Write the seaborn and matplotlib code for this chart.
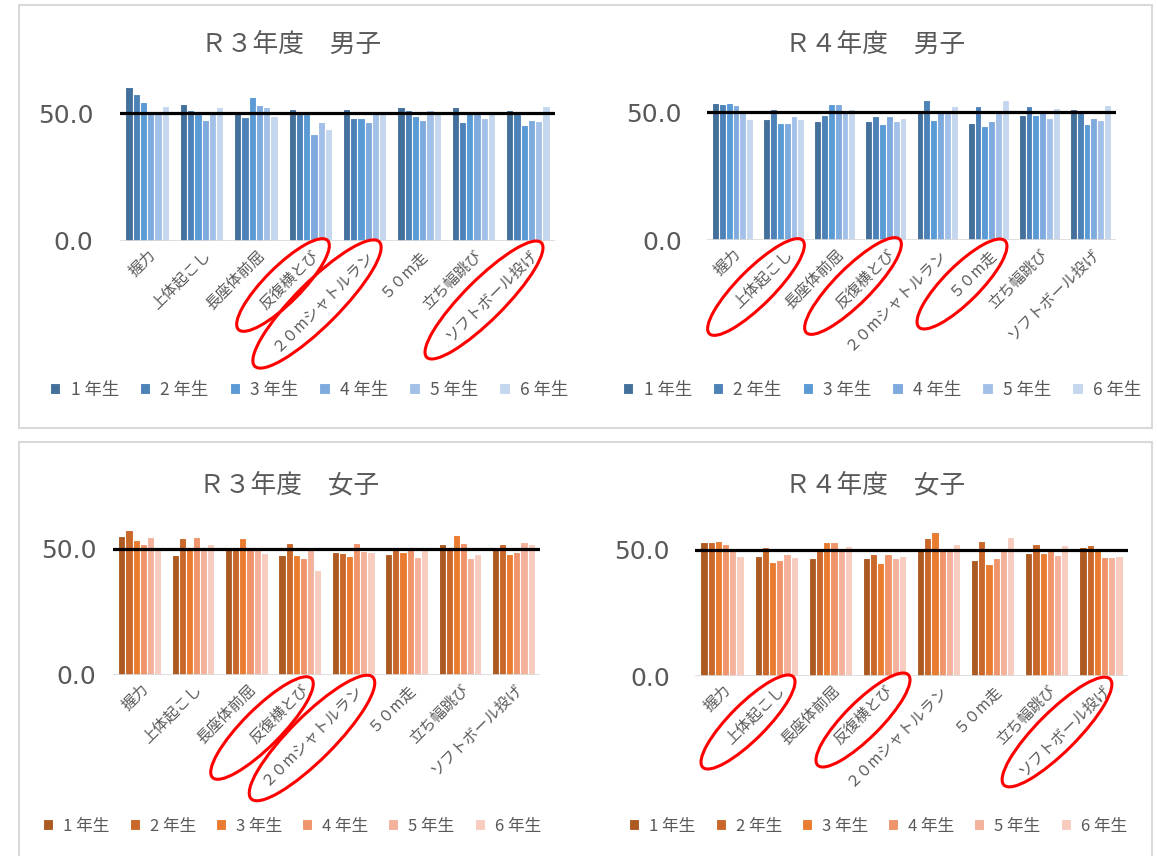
import matplotlib
matplotlib.use("Agg")
import matplotlib.pyplot as plt
from matplotlib.patches import Rectangle, Ellipse
import pandas as pd
import seaborn as sns

sns.set_theme(style = "white")
plt.rcParams["font.family"] = ["Noto Sans CJK JP", "DejaVu Sans"]

# Categories and grades
events = ["握力", "上体起こし", "長座体前屈", "反復横とび", "２０mシャトルラン", "５０m走", "立ち幅跳び", "ソフトボール投げ"]
grades = ["1 年生", "2 年生", "3 年生", "4 年生", "5 年生", "6 年生"]

# Values per grade (one list per grade, in event order)
r3_boys = [
    [60.2, 53.7, 51.0, 51.8, 51.8, 52.4, 52.4, 51.4],
    [57.6, 51.4, 48.4, 50.4, 48.3, 51.4, 46.6, 51.0],
    [54.5, 49.7, 56.3, 49.7, 48.3, 48.8, 51.0, 45.3],
    [51.0, 47.5, 53.3, 41.9, 46.6, 47.5, 49.7, 47.5],
    [51.0, 50.0, 52.4, 46.6, 51.0, 51.4, 48.0, 47.1],
    [52.7, 52.4, 48.8, 44.0, 50.0, 49.7, 51.0, 52.7],
]
r4_boys = [
    [53.7, 47.5, 46.6, 46.6, 50.5, 45.8, 48.8, 51.4],
    [53.1, 51.4, 48.8, 48.4, 55.0, 52.4, 52.4, 51.0],
    [53.7, 45.8, 53.1, 45.3, 47.1, 44.5, 48.8, 45.3],
    [52.7, 45.8, 53.1, 48.4, 50.0, 46.6, 50.5, 47.9],
    [50.5, 48.4, 50.5, 46.6, 49.7, 51.0, 47.9, 47.1],
    [47.5, 47.5, 51.4, 47.9, 52.4, 55.0, 51.8, 52.7],
]
r3_girls = [
    [55.1, 47.6, 50.0, 47.6, 48.8, 48.0, 52.0, 50.0],
    [57.6, 54.2, 50.0, 52.4, 48.4, 49.7, 50.0, 52.0],
    [53.7, 50.5, 54.2, 47.6, 47.2, 48.8, 55.5, 48.0],
    [52.0, 54.7, 50.0, 46.3, 52.4, 50.5, 52.4, 48.8],
    [54.7, 49.5, 50.0, 49.7, 49.2, 46.7, 46.3, 52.8],
    [49.7, 52.0, 48.2, 41.6, 48.8, 50.0, 48.0, 52.0],
]
r4_girls = [
    [53.1, 47.6, 46.7, 46.7, 50.7, 45.9, 48.8, 51.0],
    [53.1, 51.0, 49.6, 48.4, 54.5, 53.5, 52.4, 51.8],
    [53.7, 45.1, 53.1, 44.8, 57.1, 44.5, 48.8, 50.1],
    [52.4, 45.9, 53.1, 48.4, 50.1, 46.7, 50.7, 47.1],
    [50.7, 48.4, 50.7, 46.7, 49.6, 50.7, 48.0, 47.1],
    [47.6, 47.1, 51.4, 47.6, 52.4, 55.0, 52.0, 47.6],
]

blues = ["#44719c", "#4d82b8", "#5b9bd5", "#7faade", "#a3c1e8", "#c5d6ef"]
oranges = ["#ad5a22", "#c9682a", "#e97c30", "#f0956b", "#f4b19b", "#f8ccbf"]

W, H = 1157, 856
fig = plt.figure(figsize = (W / 100, H / 100), dpi = 100)


def px_axes(x0, x1, y_top, y_bottom):
    # pixel box -> figure fraction
    return fig.add_axes([x0 / W, 1 - y_bottom / H, (x1 - x0) / W, (y_bottom - y_top) / H])


def to_long(values):
    rows = []
    for g, vals in zip(grades, values):
        for e, v in zip(events, vals):
            rows.append({"種目": e, "学年": g, "値": v})
    return pd.DataFrame(rows)


gray = "#595959"
# title, data, colours, axes box (px), title pos, legend centre, ytick pad, legend font
panels = [
    ("Ｒ３年度　男子", r3_boys, blues, (120, 555, 75, 241), (291, 45), (309, 390), 19, 12.5),
    ("Ｒ４年度　男子", r4_boys, blues, (707, 1116, 74, 240), (875, 45), (882, 390), 18, 12.5),
    ("Ｒ３年度　女子", r3_girls, oranges, (113, 540, 511, 675), (289, 485), (292, 826), 12, 12),
    ("Ｒ４年度　女子", r4_girls, oranges, (695, 1128, 512, 676), (875, 485), (878, 826), 18, 12),
]

# panel borders
for y0, y1 in [(5, 428), (442, 870)]:
    fig.patches.append(Rectangle((19 / W, 1 - y1 / H), (1152 - 19) / W, (y1 - y0) / H,
                                 transform = fig.transFigure, fill = False,
                                 edgecolor = "#d9d9d9", linewidth = 1.5))

for title, values, colors, box, tpos, lpos, ypad, lfs in panels:
    x0, x1, yt, yb = box
    ax = px_axes(x0, x1, yt, yb)
    df = to_long(values)
    sns.barplot(data = df, x = "種目", y = "値", hue = "学年", palette = colors, ax = ax,
                width = 0.8, edgecolor = "white", linewidth = 0.8, saturation = 1)
    ax.set_ylim(0, 65)
    ax.set_xlim(-0.5, 7.5)
    ax.axhline(50, color = "black", linewidth = 2.3, zorder = 5)
    ax.axhline(0, color = "#d9d9d9", linewidth = 1.2, zorder = 1)
    sns.despine(ax = ax, left = True, bottom = True)
    ax.set_yticks([0, 50])
    ax.set_yticklabels(["0.0", "50.0"], fontsize = 18, color = gray,
                       family = ["DejaVu Sans"])
    ax.tick_params(axis = "y", length = 0, pad = ypad)
    ax.tick_params(axis = "x", length = 0, pad = 4)
    ax.set_xticks(range(len(events)))
    ax.set_xticklabels(events, rotation = 45, ha = "right", rotation_mode = "anchor",
                       fontsize = 11, color = gray)
    ax.set_xlabel("")
    ax.set_ylabel("")
    ax.set_facecolor("none")
    fig.text(tpos[0] / W, 1 - tpos[1] / H, title, ha = "center", va = "center",
             fontsize = 18.5, color = gray)
    lx = (lpos[0] - x0) / (x1 - x0)
    ly = (yb - lpos[1]) / (yb - yt)
    sns.move_legend(ax, "center", bbox_to_anchor = (lx, ly), ncol = 6, frameon = False,
                    title = None, fontsize = lfs, handlelength = 0.6, handleheight = 0.6,
                    handletextpad = 0.6, columnspacing = 1.2, labelcolor = gray)

# red highlight ellipses (center x, center y, width, height) in pixels
ellipses = [
    (283, 285, 126, 36), (317, 304, 176, 44), (484, 300, 162, 40),
    (756, 287, 132, 36), (853, 286, 132, 36), (962, 284, 122, 36),
    (262, 728, 140, 38), (312, 738, 172, 44),
    (748, 722, 128, 36), (863, 720, 128, 36), (1057, 732, 150, 40),
]
for cx, cy, w, h in ellipses:
    fig.patches.append(Ellipse((cx, H - cy), w, h, angle = 45, fill = False,
                               edgecolor = "#ff0000", linewidth = 2.2,
                               transform = None, zorder = 10))

plt.savefig("out.png", dpi = 100)
